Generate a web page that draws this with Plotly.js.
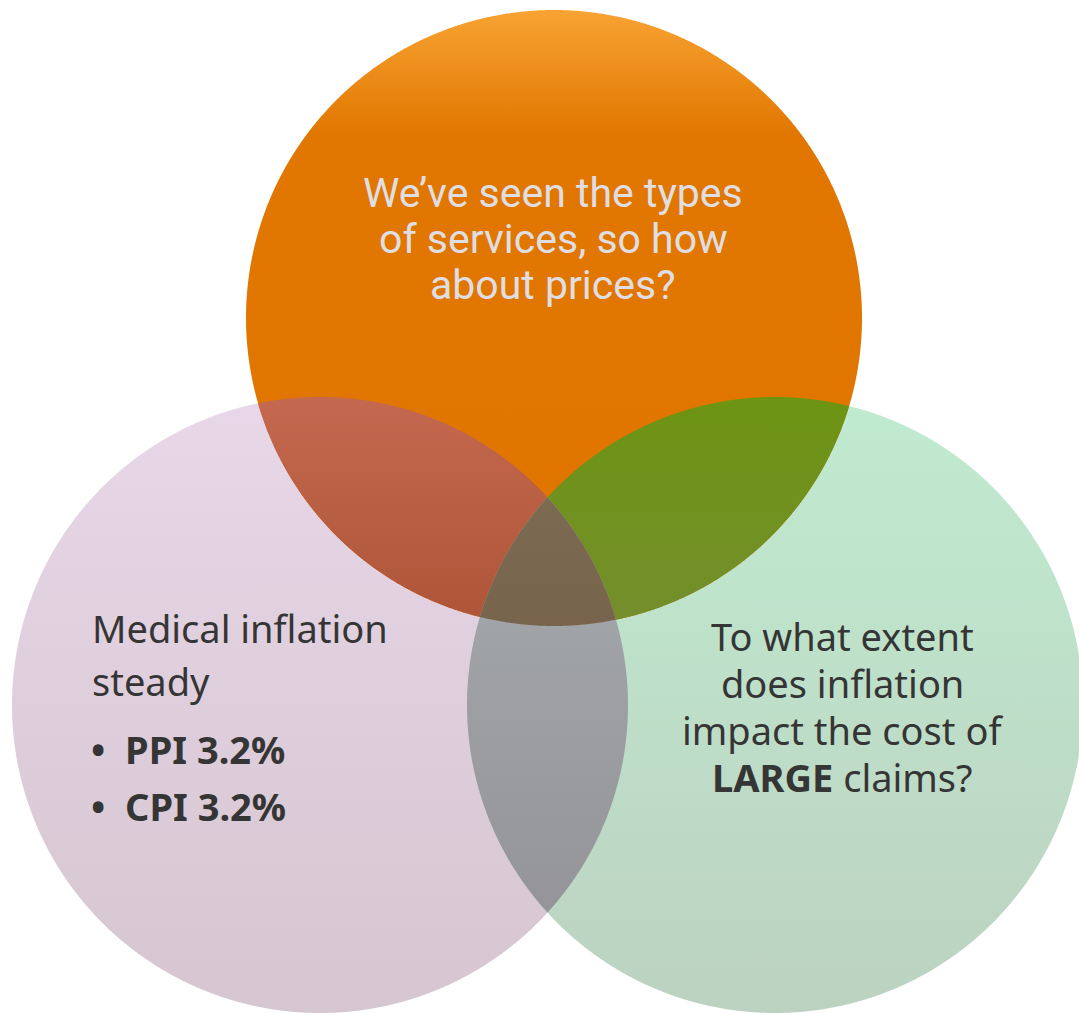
<!DOCTYPE html>
<html>
<head>
<meta charset="utf-8">
<script src="https://cdn.plot.ly/plotly-3.0.1.min.js"></script>
<style>html,body{margin:0;padding:0;background:#fff;}#chart{width:1079px;height:1013px;}</style>
</head>
<body>
<div id="chart"></div>
<script>
// ---- Content (data) ----
const setNames = ["Prices", "Medical inflation", "Large claims"];
const topLines = ["We\u2019ve seen the types", "of services, so how", "about prices?"];
const leftLines = ["Medical inflation", "steady"];
const leftBullets = ["PPI 3.2%", "CPI 3.2%"];
const rightLines = ["To what extent", "does inflation", "impact the cost of", "<b>LARGE</b> claims?"];

// ---- Geometry & styles (layout, not data) ----
const W = 1079, H = 1013;
const circles = {
  "Prices":            {cx: 554, cy: 318, r: 308},
  "Medical inflation": {cx: 320, cy: 705, r: 308},
  "Large claims":      {cx: 775, cy: 705, r: 308}
};
const regionStyles = [
  {sets: ["Medical inflation"], scale: [[0, "#E8D7E8"], [1, "#D5C6D0"]]},
  {sets: ["Large claims"], scale: [[0, "#C0EBD0"], [1, "#BCD2C1"]]},
  {sets: ["Prices"], scale: [[0, "#F8A333"], [0.2, "#E17700"], [1, "#E07400"]]},
  {sets: ["Prices", "Medical inflation"], scale: [[0, "#C4694F"], [1, "#AE5437"]]},
  {sets: ["Prices", "Large claims"], scale: [[0, "#6D9413"], [1, "#748E2C"]]},
  {sets: ["Medical inflation", "Large claims"], scale: [[0, "#A5A9AD"], [1, "#959599"]]},
  {sets: ["Prices", "Medical inflation", "Large claims"], scale: [[0, "#7C6A52"], [1, "#78644C"]]}
];

function inside(p, c, tol) {
  const dx = p[0] - c.cx, dy = p[1] - c.cy;
  return Math.sqrt(dx * dx + dy * dy) <= c.r + tol;
}
function pairIntersections(a, b) {
  const dx = b.cx - a.cx, dy = b.cy - a.cy, d = Math.sqrt(dx * dx + dy * dy);
  if (d > a.r + b.r || d < Math.abs(a.r - b.r)) return [];
  const l = (a.r * a.r - b.r * b.r + d * d) / (2 * d);
  const h = Math.sqrt(Math.max(0, a.r * a.r - l * l));
  const mx = a.cx + l * dx / d, my = a.cy + l * dy / d;
  return [[mx + h * dy / d, my - h * dx / d], [mx - h * dy / d, my + h * dx / d]];
}
function regionPolygon(names) {
  const cs = names.map(n => circles[n]);
  const N = 1440;
  let pts = [];
  cs.forEach((c, k) => {
    for (let i = 0; i < N; i++) {
      const t = 2 * Math.PI * i / N;
      const p = [c.cx + c.r * Math.cos(t), c.cy + c.r * Math.sin(t)];
      if (cs.every((o, j) => j === k || inside(p, o, 0))) pts.push(p);
    }
  });
  for (let i = 0; i < cs.length; i++)
    for (let j = i + 1; j < cs.length; j++)
      pairIntersections(cs[i], cs[j]).forEach(p => {
        if (cs.every(o => inside(p, o, 0.01))) pts.push(p);
      });
  const mx = pts.reduce((s, p) => s + p[0], 0) / pts.length;
  const my = pts.reduce((s, p) => s + p[1], 0) / pts.length;
  pts.sort((p, q) => Math.atan2(p[1] - my, p[0] - mx) - Math.atan2(q[1] - my, q[0] - mx));
  pts.push(pts[0]);
  return pts;
}

const traces = regionStyles.map(rs => {
  const poly = regionPolygon(rs.sets);
  const ys = poly.map(p => p[1]);
  return {
    type: "scatter", mode: "none", fill: "toself",
    name: rs.sets.join(" ∩ "),
    x: poly.map(p => p[0]), y: ys,
    fillcolor: rs.scale[rs.scale.length - 1][1],
    fillgradient: {type: "vertical", colorscale: rs.scale,
                   start: Math.min(...ys), stop: Math.max(...ys)},
    hoverinfo: "skip", showlegend: false
  };
});

// ---- Text annotations ----
const annotations = [];
const topFont = {family: "Roboto, sans-serif", size: 41, color: "#DEDEE3"};
const bodyFont = {family: "'Noto Sans', sans-serif", size: 38, color: "#353535"};
function baselineY(base, size) { return base - 0.36 * size; }

const topBase = [208, 254, 300];
topLines.forEach((t, i) => annotations.push({
  x: 553, y: baselineY(topBase[i], topFont.size), xref: "x", yref: "y",
  text: t, showarrow: false, xanchor: "center", yanchor: "middle", font: topFont
}));
const leftBase = [642, 695];
leftLines.forEach((t, i) => annotations.push({
  x: 90, y: baselineY(leftBase[i], bodyFont.size), xref: "x", yref: "y",
  text: t, showarrow: false, xanchor: "left", yanchor: "middle", font: bodyFont
}));
const bulletBase = [763, 820];
leftBullets.forEach((t, i) => {
  annotations.push({
    x: 89, y: baselineY(bulletBase[i], bodyFont.size), xref: "x", yref: "y",
    text: "<b>\u2022\u00A0\u00A0" + t + "</b>", showarrow: false,
    xanchor: "left", yanchor: "middle", font: bodyFont
  });
});
const rightBase = [650, 697, 744, 791];
rightLines.forEach((t, i) => annotations.push({
  x: 842, y: baselineY(rightBase[i], bodyFont.size), xref: "x", yref: "y",
  text: t, showarrow: false, xanchor: "center", yanchor: "middle", font: bodyFont
}));

const layout = {
  width: W, height: H,
  margin: {l: 0, r: 0, t: 0, b: 0, pad: 0},
  paper_bgcolor: "#FFFFFF", plot_bgcolor: "#FFFFFF",
  xaxis: {range: [0, W], visible: false, fixedrange: true},
  yaxis: {range: [H, 0], visible: false, fixedrange: true},
  showlegend: false,
  annotations: annotations
};
Plotly.newPlot("chart", traces, layout, {displayModeBar: false, staticPlot: true});
</script>
</body>
</html>
